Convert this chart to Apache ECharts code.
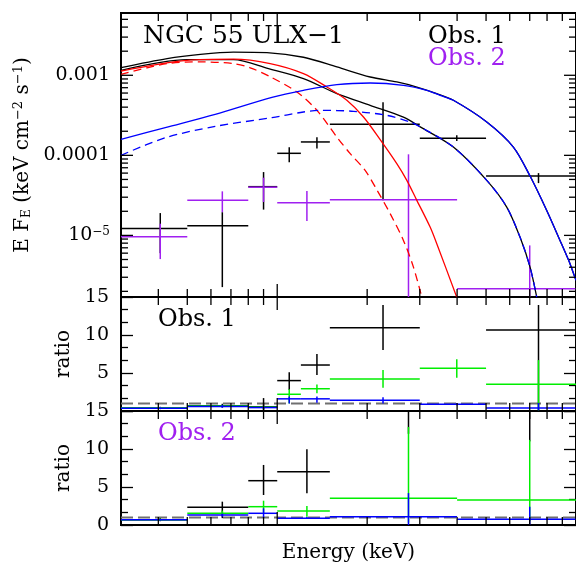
<!DOCTYPE html>
<html><head><meta charset="utf-8">
<script src="https://cdn.jsdelivr.net/npm/echarts@6/dist/echarts.min.js"></script>
<style>html,body{margin:0;padding:0;background:#fff}#c{width:576px;height:565px}</style>
</head><body><div id="c"></div>
<script>
const FONT = 'DejaVu Serif';
// ---------- axis ticks / labels ----------
const xMajorTicks = [1, 10];
const xMinorTicks = [0.4, 0.5, 0.6, 0.7, 0.8, 0.9, 2, 3, 4, 5, 6, 7, 8, 9];
const yLogMajorTicks = [1e-5, 1e-4, 1e-3];
const yLogMinorTicks = [2e-6, 3e-6, 4e-6, 5e-6, 6e-6, 7e-6, 8e-6, 9e-6,
  2e-5, 3e-5, 4e-5, 5e-5, 6e-5, 7e-5, 8e-5, 9e-5,
  2e-4, 3e-4, 4e-4, 5e-4, 6e-4, 7e-4, 8e-4, 9e-4,
  2e-3, 3e-3, 4e-3, 5e-3];
const fluxTickLabels = { '-3': '0.001', '-4': '0.0001', '-5': '10{sup|−5}' };
const ratioTickLabelsObs1 = ['5', '10', '15'];
const ratioTickLabelsObs2 = ['0', '5', '10', '15'];

// ---------- data: [E, Elo, Ehi, value, lo, hi] ----------
const obs1Flux = [
  [0.406, 0.30, 0.50, 1.22e-5, 6.0e-6, 1.90e-5],
  [0.655, 0.50, 0.80, 1.32e-5, 2.26e-6, 1.95e-5],
  [0.90, 0.80, 1.00, 4.06e-5, 2.10e-5, 6.18e-5],
  [1.097, 1.00, 1.20, 1.06e-4, 8.2e-5, 1.26e-4],
  [1.358, 1.20, 1.50, 1.47e-4, 1.22e-4, 1.68e-4],
  [2.26, 1.50, 3.00, 2.44e-4, 2.74e-5, 4.6e-4],
  [3.99, 3.00, 5.00, 1.64e-4, 1.51e-4, 1.78e-4],
  [7.49, 5.00, 10.0, 5.51e-5, 4.5e-5, 6.0e-5]
];
const obs2Flux = [
  [0.406, 0.30, 0.50, 9.6e-6, 5.06e-6, 1.40e-5],
  [0.655, 0.50, 0.80, 2.74e-5, 1.95e-5, 3.55e-5],
  [0.90, 0.80, 1.00, 4.0e-5, 2.61e-5, 5.26e-5],
  [1.257, 1.00, 1.50, 2.56e-5, 1.51e-5, 3.58e-5],
  [2.75, 1.50, 4.00, 2.79e-5, 1e-8, 1.03e-4],
  [7.0, 4.00, 10.0, 2.16e-6, 1e-8, 7.5e-6]
];
// model curves [E, E*F_E]
const modelTotalObs1 = [[0.30,1.25e-3],[0.428,1.62e-3],[0.553,1.83e-3],[0.713,1.95e-3],[0.924,1.92e-3],[1.224,1.68e-3],[1.584,1.27e-3],[2.047,9.52e-4],[2.513,8.25e-4],[2.933,7.14e-4],[3.42,5.91e-4],[3.887,4.87e-4],[5.027,2.61e-4],[6.171,1.27e-4],[7.018,5.51e-5],[7.98,2.05e-5],[8.84,8.66e-6],[9.55,4.43e-6],[10.0,2.74e-6]];
const modelTotalObs2 = [[0.30,1.155e-3],[0.499,1.57e-3],[0.714,1.57e-3],[0.935,1.21e-3],[1.224,9.1e-4],[1.584,5.91e-4],[2.047,4.22e-4],[2.645,3.01e-4],[3.01,2.27e-4],[3.887,1.27e-4],[5.027,4.87e-5],[5.864,2.26e-5],[6.495,9.52e-6],[7.018,4.02e-6],[7.389,1.69e-6]];
const diskObs1 = [[0.30,1.13e-3],[0.499,1.54e-3],[0.714,1.59e-3],[0.947,1.40e-3],[1.224,1.05e-3],[1.466,7.14e-4],[1.71,4.87e-4],[1.944,3.01e-4],[2.211,1.57e-4],[2.513,7.87e-5],[2.715,4.87e-5],[2.933,2.74e-5],[3.249,1.27e-5],[3.42,7.87e-6],[3.99,1.69e-6]];
const diskObs2 = [[0.30,1.03e-3],[0.428,1.40e-3],[0.553,1.47e-3],[0.713,1.40e-3],[0.812,1.24e-3],[0.947,9.6e-4],[1.164,6.18e-4],[1.358,3.65e-4],[1.584,1.69e-4],[1.755,1.05e-4],[1.969,6.49e-5],[2.16,3.65e-5],[2.388,1.87e-5],[2.645,8.66e-6],[2.857,4.02e-6],[3.048,1.69e-6]];
const hardObs1 = [[0.30,1.58e-4],[0.422,2.22e-4],[0.620,3.25e-4],[0.96,5.3e-4],[1.224,6.49e-4],[1.584,7.65e-4],[2.047,8.01e-4],[2.645,7.50e-4],[3.17,6.49e-4],[3.51,5.62e-4],[3.887,4.87e-4],[5.027,2.61e-4],[6.171,1.27e-4],[7.018,5.51e-5],[7.98,2.05e-5],[8.84,8.66e-6],[9.55,4.43e-6],[10.0,2.74e-6]];
const hardObs2 = [[0.30,1.0e-4],[0.422,1.66e-4],[0.620,2.30e-4],[0.960,2.96e-4],[1.224,3.48e-4],[1.393,3.65e-4],[1.80,3.55e-4],[2.328,3.16e-4],[2.785,2.61e-4],[3.01,2.27e-4],[3.887,1.27e-4],[5.027,4.87e-5],[5.864,2.26e-5],[6.495,9.52e-6],[7.018,4.02e-6],[7.389,1.69e-6]];

// ratios
const ratio1Black = [
  [0.406,0.30,0.50,0.40,0.25,0.55],[0.655,0.50,0.80,0.68,0.45,0.95],[0.90,0.80,1.00,0.55,0.13,1.70],
  [1.097,1.00,1.20,4.0,2.76,5.1],[1.358,1.20,1.50,6.05,4.74,7.5],[2.26,1.50,3.00,10.96,8.03,13.95],
  [7.49,5.00,10.0,10.66,0.0,13.95]];
const ratio1Green = [
  [0.406,0.30,0.50,0.40,0.30,0.50],[0.655,0.50,0.80,0.66,0.50,0.82],[0.90,0.80,1.00,0.50,0.30,0.70],
  [1.097,1.00,1.20,2.2,1.0,2.85],[1.358,1.20,1.50,2.93,2.33,3.5],[2.26,1.50,3.00,4.21,3.07,5.39],
  [3.99,3.00,5.00,5.62,4.38,6.8],[7.49,5.00,10.0,3.51,0.1,6.7]];
const ratio1Blue = [
  [0.406,0.30,0.50,0.36,0.25,0.47],[0.655,0.50,0.80,0.60,0.45,0.80],[0.90,0.80,1.00,0.45,0.25,0.65],
  [1.097,1.00,1.20,1.6,1.0,1.9],[1.358,1.20,1.50,1.6,1.1,1.9],[2.26,1.50,3.00,1.41,1.0,1.8],
  [3.99,3.00,5.00,0.9,0.75,1.05],[7.49,5.00,10.0,0.4,0.1,1.05]];
const ratio2Black = [
  [0.406,0.30,0.50,0.70,0.50,0.90],[0.655,0.50,0.80,2.33,0.90,3.07],[0.90,0.80,1.00,5.83,3.95,7.9],
  [1.257,1.00,1.50,7.0,4.17,9.96],[2.75,1.50,4.00,18,12,25],[7.0,4.00,10.0,18,11,25]];
const ratio2Green = [
  [0.406,0.30,0.50,0.70,0.55,0.85],[0.655,0.50,0.80,1.54,1.2,1.9],[0.90,0.80,1.00,2.41,1.6,3.2],
  [1.257,1.00,1.50,1.84,1.1,2.5],[2.75,1.50,4.00,3.51,0.3,12.9],[7.0,4.00,10.0,3.29,0.5,11.2]];
const ratio2Blue = [
  [0.406,0.30,0.50,0.70,0.6,0.8],[0.655,0.50,0.80,1.32,1.1,1.5],[0.90,0.80,1.00,1.54,0.9,2.2],
  [1.257,1.00,1.50,0.9,0.8,1.05],[2.75,1.50,4.00,1.09,0.0,4.2],[7.0,4.00,10.0,0.75,0.0,2.4]];
const ratioUnity = [[0.3, 1], [10, 1]];

const C = { black:'#000000', purple:'#a020f0', red:'#ff0000', blue:'#0000ff', green:'#00ee00', gray:'#707070' };

// ---------- helpers ----------
function crossSeries(data, color, xi, yi, z) {
  return {
    type: 'custom', xAxisIndex: xi, yAxisIndex: yi, data: data, z: z, silent: true,
    encode: { x: 0, y: 3 },
    renderItem: function (params, api) {
      const cs = params.coordSys;
      const x0 = cs.x, x1 = cs.x + cs.width, y0 = cs.y, y1 = cs.y + cs.height;
      const v = i => api.value(i);
      const c = api.coord([v(0), v(3)]), l = api.coord([v(1), v(3)]), h = api.coord([v(2), v(3)]);
      const a = api.coord([v(0), v(4)]), b = api.coord([v(0), v(5)]);
      const st = { stroke: color, lineWidth: 1.5 };
      const kids = [];
      if (c[1] >= y0 - 0.5 && c[1] <= y1 + 0.5) {
        kids.push({ type: 'line', shape: { x1: Math.max(l[0], x0), y1: c[1], x2: Math.min(h[0], x1), y2: c[1] }, style: st });
      }
      let ya = Math.max(Math.min(a[1], b[1]), y0), yb = Math.min(Math.max(a[1], b[1]), y1);
      if (yb > ya) kids.push({ type: 'line', shape: { x1: c[0], y1: ya, x2: c[0], y2: yb }, style: st });
      return { type: 'group', children: kids };
    }
  };
}
function xTicks(values, len, xi, yi, yRef) {
  return {
    type: 'custom', xAxisIndex: xi, yAxisIndex: yi, silent: true, z: 20,
    data: values.map(v => [v, yRef]),
    renderItem: function (params, api) {
      const cs = params.coordSys;
      const px = api.coord([api.value(0), api.value(1)])[0];
      const top = cs.y, bot = cs.y + cs.height;
      const st = { stroke: '#000', lineWidth: 1.3 };
      return { type: 'group', children: [
        { type: 'line', shape: { x1: px, y1: bot, x2: px, y2: bot - len }, style: st },
        { type: 'line', shape: { x1: px, y1: top, x2: px, y2: top + len }, style: st }
      ] };
    }
  };
}
function yLogTicks(values, len) {
  return {
    type: 'custom', xAxisIndex: 0, yAxisIndex: 0, silent: true, z: 20,
    data: values.map(v => [1, v]),
    renderItem: function (params, api) {
      const cs = params.coordSys;
      const py = api.coord([api.value(0), api.value(1)])[1];
      const l = cs.x, r = cs.x + cs.width;
      const st = { stroke: '#000', lineWidth: 1.3 };
      return { type: 'group', children: [
        { type: 'line', shape: { x1: l, y1: py, x2: l + len, y2: py }, style: st },
        { type: 'line', shape: { x1: r, y1: py, x2: r - len, y2: py }, style: st }
      ] };
    }
  };
}
function modelLine(data, color, dashed, z) {
  return {
    type: 'line', xAxisIndex: 0, yAxisIndex: 0, data: data, showSymbol: false, symbol: 'none',
    smooth: 0.3, clip: true, z: z, silent: true,
    lineStyle: { color: color, width: 1.3, type: dashed ? [8, 5] : 'solid' }
  };
}
function unityLine(xi, yi) {
  return {
    type: 'line', xAxisIndex: xi, yAxisIndex: yi, data: ratioUnity, showSymbol: false, symbol: 'none', z: 2, silent: true,
    lineStyle: { color: C.gray, width: 2, type: [12, 5] }
  };
}
const xAxisBase = (gi) => ({
  type: 'log', gridIndex: gi, min: 0.3, max: 10, logBase: 10,
  axisLine: { show: false }, axisTick: { show: false }, axisLabel: { show: false }, splitLine: { show: false }
});
const labelStyle = { fontFamily: FONT, fontSize: 19, color: '#000' };
const ratioAxis = (gi, pos, labels, withName) => ({
  type: 'value', gridIndex: gi, min: 0, max: 15, interval: 5, position: pos,
  axisLine: { show: false }, splitLine: { show: false },
  axisTick: { show: true, inside: true, length: 12, lineStyle: { color: '#000', width: 1.3 } },
  minorTick: { show: true, splitNumber: 3, length: 7, lineStyle: { color: '#000', width: 1.3 } },
  axisLabel: labels ? Object.assign({ show: true, margin: 12,
    formatter: v => (labels.indexOf(String(v)) >= 0 ? String(v) : '') }, labelStyle) : { show: false },
  name: withName ? 'ratio' : '', nameLocation: 'middle', nameGap: 42, nameRotate: 90,
  nameTextStyle: { fontFamily: FONT, fontSize: 20, color: '#000' }
});

const chart = echarts.init(document.getElementById('c'), null, { renderer: 'canvas' });
const gridStyle = { show: true, borderColor: '#000', borderWidth: 2, backgroundColor: 'transparent', containLabel: false };
chart.setOption({
  animation: false,
  backgroundColor: '#fff',
  grid: [
    Object.assign({ left: 121, right: 0, top: 13, height: 284 }, gridStyle),
    Object.assign({ left: 121, right: 0, top: 297, height: 114 }, gridStyle),
    Object.assign({ left: 121, right: 0, top: 411, height: 114 }, gridStyle)
  ],
  xAxis: [
    xAxisBase(0), xAxisBase(1),
    Object.assign(xAxisBase(2), { name: 'Energy (keV)', nameLocation: 'middle', nameGap: 18,
      nameTextStyle: { fontFamily: FONT, fontSize: 20, color: '#000' } })
  ],
  yAxis: [
    {
      type: 'log', gridIndex: 0, min: 1.7e-6, max: 6e-3, logBase: 10,
      axisLine: { show: false }, axisTick: { show: false }, splitLine: { show: false },
      axisLabel: Object.assign({ margin: 11, showMinLabel: false, showMaxLabel: false,
        formatter: function (v) {
          const e = Math.log10(v), r = Math.round(e);
          if (Math.abs(e - r) > 1e-6) return '';
          return fluxTickLabels[String(r)] || '';
        },
        rich: { sup: { fontFamily: FONT, fontSize: 12, verticalAlign: 'top', color: '#000' } } }, labelStyle),
      name: 'E F{sub|E} (keV cm{sup|−2} s{sup|−1})', nameLocation: 'middle', nameGap: 86, nameRotate: 90,
      nameTextStyle: { fontFamily: FONT, fontSize: 20, color: '#000',
        rich: { sub: { fontFamily: FONT, fontSize: 12, verticalAlign: 'bottom', color: '#000' },
                sup: { fontFamily: FONT, fontSize: 13, verticalAlign: 'top', color: '#000' } } }
    },
    ratioAxis(1, 'left', ratioTickLabelsObs1, true),
    ratioAxis(1, 'right', null, false),
    ratioAxis(2, 'left', ratioTickLabelsObs2, true),
    ratioAxis(2, 'right', null, false)
  ],
  series: [
    crossSeries(obs1Flux, C.black, 0, 0, 3),
    crossSeries(obs2Flux, C.purple, 0, 0, 4),
    modelLine(modelTotalObs1, C.black, false, 5),
    modelLine(modelTotalObs2, C.black, false, 5),
    modelLine(diskObs1, C.red, false, 6),
    modelLine(diskObs2, C.red, true, 6),
    modelLine(hardObs1, C.blue, false, 7),
    modelLine(hardObs2, C.blue, true, 7),
    unityLine(1, 1),
    crossSeries(ratio1Black, C.black, 1, 1, 3),
    crossSeries(ratio1Green, C.green, 1, 1, 4),
    crossSeries(ratio1Blue, C.blue, 1, 1, 5),
    unityLine(2, 3),
    crossSeries(ratio2Black, C.black, 2, 3, 3),
    crossSeries(ratio2Green, C.green, 2, 3, 4),
    crossSeries(ratio2Blue, C.blue, 2, 3, 5),
    xTicks(xMinorTicks, 8, 0, 0, 1e-3), xTicks(xMajorTicks, 13, 0, 0, 1e-3),
    xTicks(xMinorTicks, 8, 1, 1, 1), xTicks(xMajorTicks, 13, 1, 1, 1),
    xTicks(xMinorTicks, 8, 2, 3, 1), xTicks(xMajorTicks, 13, 2, 3, 1),
    yLogTicks(yLogMinorTicks, 7), yLogTicks(yLogMajorTicks, 12)
  ],
  graphic: [
    { type: 'text', x: 143, y: 36, z: 50, style: { text: 'NGC 55 ULX−1', font: '25px "DejaVu Serif"', fill: '#000', verticalAlign: 'middle', textVerticalAlign: 'middle' } },
    { type: 'text', x: 428, y: 37, z: 50, style: { text: 'Obs. 1', font: '24px "DejaVu Serif"', fill: '#000', verticalAlign: 'middle', textVerticalAlign: 'middle' } },
    { type: 'text', x: 428, y: 59, z: 50, style: { text: 'Obs. 2', font: '24px "DejaVu Serif"', fill: C.purple, verticalAlign: 'middle', textVerticalAlign: 'middle' } },
    { type: 'text', x: 158, y: 320, z: 50, style: { text: 'Obs. 1', font: '24px "DejaVu Serif"', fill: '#000', verticalAlign: 'middle', textVerticalAlign: 'middle' } },
    { type: 'text', x: 158, y: 434, z: 50, style: { text: 'Obs. 2', font: '24px "DejaVu Serif"', fill: C.purple, verticalAlign: 'middle', textVerticalAlign: 'middle' } }
  ]
});
</script>
</body></html>
